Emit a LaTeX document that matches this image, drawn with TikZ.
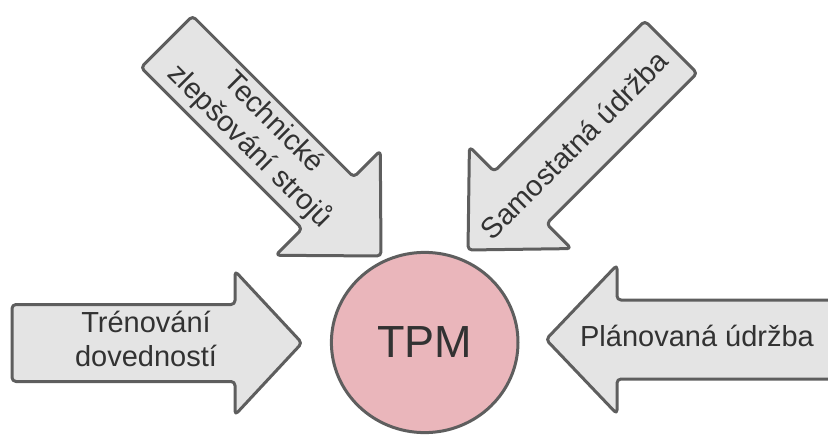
\documentclass[tikz,border=0pt]{standalone}
\usepackage{fontspec}
\setmainfont{Liberation Sans}
\usetikzlibrary{shapes.geometric}

\definecolor{arrowfill}{RGB}{228,228,228}
\definecolor{edgegray}{RGB}{94,94,94}
\definecolor{tpmpink}{RGB}{234,182,187}
\definecolor{labelgray}{RGB}{50,50,50}

\tikzset{
  arrowbody/.style={draw=edgegray, fill=arrowfill, line width=3pt,
    rounded corners=4pt, line join=round},
  arrowlabel/.style={text=labelgray, font=\fontsize{29}{34}\selectfont,
    align=center, inner sep=0pt},
  % block arrow with its tip at the pic origin, pointing along +x
  % #1 total length, #2 half shaft width, #3 head length, #4 half head width
  pics/blockarrow/.style n args={4}{code={
    \draw[arrowbody] (0,0) -- (-#3,#4) -- (-#3,#2) -- (-#1,#2)
      -- (-#1,-#2) -- (-#3,-#2) -- (-#3,-#4) -- cycle;
  }},
}

\begin{document}
\begin{tikzpicture}[x=1pt,y=-1pt]
\useasboundingbox (0,0) rectangle (828,436);
\clip (0,0) rectangle (828,436);

% the four arrows pointing at the centre
\pic at (302,343) {blockarrow={290}{38.5}{67}{72}};
\pic[rotate=180] at (546,339.5) {blockarrow={300}{39.5}{71}{74.5}};
\pic[rotate=-45] at (381,256) {blockarrow={303}{36.5}{75}{74}};
\pic[rotate=-135] at (468,250) {blockarrow={287}{37}{74}{72}};

% centre circle
\node[ellipse, draw=edgegray, fill=tpmpink, line width=3pt,
  minimum width=186.6pt, minimum height=180.2pt, inner sep=0pt,
  text=labelgray, font=\fontsize{45}{54}\selectfont] (tpm) at (424.7,342.5) {TPM};

% arrow labels
\node[arrowlabel] (training) at (146,339) {Trénování\\dovedností};
\node[arrowlabel] (planned) at (697,335.5) {Plánovaná údržba};
\node[arrowlabel, rotate=-45] (technical) at (261,135) {Technické\\zlepšování strojů};
\node[arrowlabel, rotate=45] (autonomous) at (574,145) {Samostatná údržba};
\end{tikzpicture}
\end{document}
